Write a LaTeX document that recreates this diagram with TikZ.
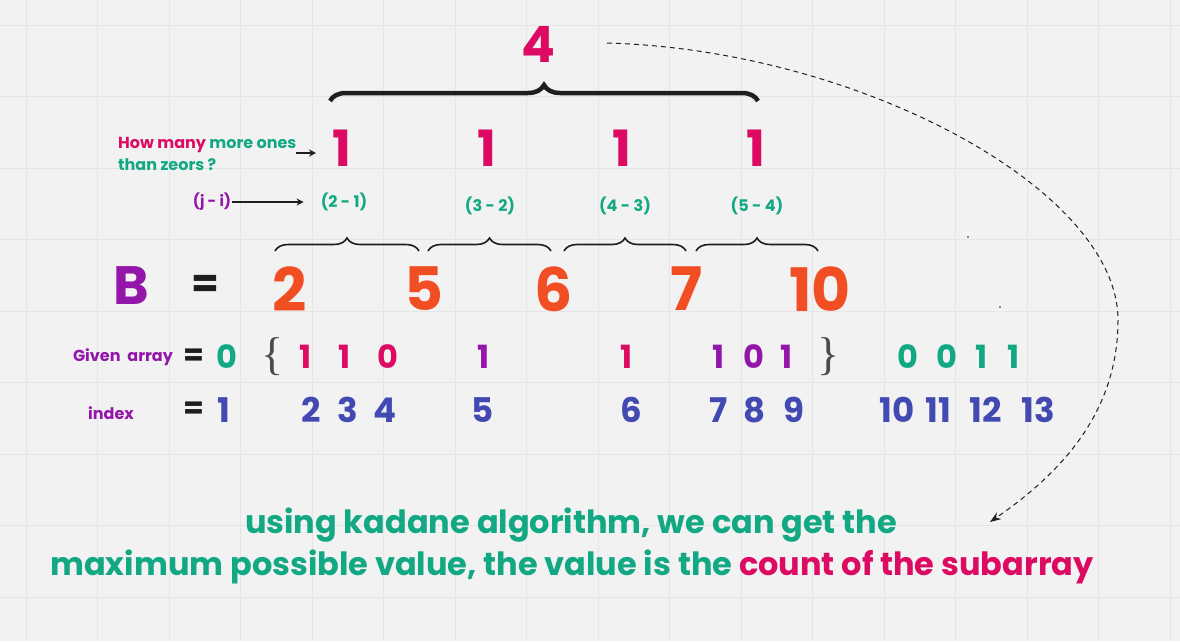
\documentclass[tikz,border=0pt]{standalone}
\usepackage{fontspec}
\setmainfont{Poppins}
\newfontfamily\braceserif{Liberation Serif}
\usetikzlibrary{decorations.pathreplacing,arrows.meta}
\definecolor{bg}{HTML}{F2F2F2}
\definecolor{gridc}{HTML}{E5E5E5}
\definecolor{pinkc}{HTML}{DC0A62}
\definecolor{greenc}{HTML}{13A884}
\definecolor{purplec}{HTML}{9315AA}
\definecolor{orangec}{HTML}{F24E24}
\definecolor{bluec}{HTML}{4249B2}
\definecolor{inkc}{HTML}{1E1E1E}
\tikzset{
  txt/.style={inner sep=0pt, font=\bfseries},
  big/.style={txt, font=\fontsize{50}{50}\selectfont\bfseries},
  bnum/.style={txt, text=orangec, font=\fontsize{60}{60}\selectfont\bfseries},
  arr/.style={txt, font=\fontsize{32}{32}\selectfont\bfseries},
  idx/.style={txt, text=bluec, font=\fontsize{34}{34}\selectfont\bfseries},
  lab/.style={txt, font=\fontsize{16}{22}\selectfont\bfseries},
  diff/.style={txt, text=greenc, font=\fontsize{16}{16}\selectfont\bfseries},
  rowlab/.style={txt, text=purplec, font=\fontsize{16}{16}\selectfont\bfseries},
  curly/.style={txt, text=inkc!80, font=\fontsize{46}{46}\selectfont\braceserif},
  bigbrace/.style={draw=inkc, line width=4.5pt, decorate, decoration={brace, amplitude=16pt}},
  smallbrace/.style={draw=inkc, line width=1.6pt, decorate, decoration={brace, amplitude=13pt}},
  pointer/.style={draw=inkc, line width=1.2pt, -{Stealth[length=7pt,width=7pt]}},
  dasharrow/.style={draw=inkc, line width=1pt, dash pattern=on 5pt off 4pt, -{Stealth[length=11pt,width=8pt]}},
  eqs/.style={txt, text=inkc},
  bottomtext/.style={txt, font=\fontsize{32}{32}\selectfont\bfseries}
}
\begin{document}
\begin{tikzpicture}[x=1pt,y=-1pt]
\fill[bg] (0,0) rectangle (1180,641);
\useasboundingbox (0,0) rectangle (1180,641);
\foreach \gx in {26,97.5,...,1180} \draw[gridc, line width=0.8pt] (\gx,0) -- (\gx,641);
\foreach \gy in {25,96.5,...,641} \draw[gridc, line width=0.8pt] (0,\gy) -- (1180,\gy);

% top total
\node[big, text=pinkc] (four) at (538,44) {4};
\draw[bigbrace] (330,101) -- (758,101);
\coordinate (dstart) at (607,43);
\coordinate (dend) at (990,522);
\draw[dasharrow] (dstart) .. controls (860,50) and (1118,190) .. (1118,320) .. controls (1118,415) and (1058,475) .. (dend);

% question
\node[lab, align=left, anchor=west] (q) at (118,154) {\textcolor{pinkc}{How many} \textcolor{greenc}{more ones}\\\textcolor{greenc}{than zeors ?}};
\node[big, text=pinkc] (o1) at (342,148) {1};
\node[big, text=pinkc] (o2) at (487,148) {1};
\node[big, text=pinkc] (o3) at (622,148) {1};
\node[big, text=pinkc] (o4) at (756,148) {1};
\coordinate (qarrow) at (316,153);
\coordinate (qtail) at (296,153);
\draw[pointer] (qtail) -- (qarrow);

\node[lab, text=purplec, font=\fontsize{15}{15}\selectfont\bfseries] (ji) at (212,202) {(j - i)};
\node[diff] (d1) at (344,202) {(2 - 1)};
\node[diff] (d2) at (490,206) {(3 - 2)};
\node[diff] (d3) at (625,206) {(4 - 3)};
\node[diff] (d4) at (757,206) {(5 - 4)};
\draw[pointer] ([xshift=1pt]ji.east) -- ([xshift=-17pt]d1.west);

% small braces
\draw[smallbrace] (275,251) -- (419,251);
\draw[smallbrace] (428,251) -- (551,251);
\draw[smallbrace] (564,251) -- (686,251);
\draw[smallbrace] (696,251) -- (818,251);

% B row
\node[txt, text=purplec, font=\fontsize{54}{54}\selectfont\bfseries] (B) at (131,286) {B};
\node[eqs, font=\fontsize{40}{40}\selectfont\bfseries] (eqB) at (205,286) {=};
\node[bnum] (b1) at (290,289) {2};
\node[bnum] (b2) at (424,289) {5};
\node[bnum] (b3) at (554,289) {6};
\node[bnum] (b4) at (687,289) {7};
\node[bnum] (b5) at (820,289) {10};
\fill[inkc] (968,237) circle (0.8pt);
\fill[inkc] (1000,307) circle (0.8pt);

% given array row
\node[rowlab] (ga) at (123,357) {Given\ \ array};
\node[eqs, font=\fontsize{30}{30}\selectfont\bfseries] (eq1) at (194,357) {=};
\node[arr, text=greenc] (a1) at (227,357) {0};
\node[curly] (lb) at (273,357) {\{};
\node[arr, text=pinkc] (a2) at (306,357) {1};
\node[arr, text=pinkc] (a3) at (345,357) {1};
\node[arr, text=pinkc] (a4) at (388,357) {0};
\node[arr, text=purplec] (a5) at (484,357) {1};
\node[arr, text=pinkc] (a6) at (627,357) {1};
\node[arr, text=purplec] (a7) at (719,357) {1};
\node[arr, text=purplec] (a8) at (754,357) {0};
\node[arr, text=purplec] (a9) at (787,357) {1};
\node[curly] (rb) at (829,357) {\}};
\node[arr, text=greenc] (a10) at (908,357) {0};
\node[arr, text=greenc] (a11) at (947,357) {0};
\node[arr, text=greenc] (a12) at (982,357) {1};
\node[arr, text=greenc] (a13) at (1014,357) {1};

% index row
\node[rowlab] (ix) at (111,413) {index};
\node[eqs, font=\fontsize{30}{30}\selectfont\bfseries] (eq2) at (194,410) {=};
\node[idx] (i1) at (224,410) {1};
\node[idx] (i2) at (311,410) {2};
\node[idx] (i3) at (348,410) {3};
\node[idx] (i4) at (385,410) {4};
\node[idx] (i5) at (483,410) {5};
\node[idx] (i6) at (631,410) {6};
\node[idx] (i7) at (719,410) {7};
\node[idx] (i8) at (755,410) {8};
\node[idx] (i9) at (794,410) {9};
\node[idx] (i10) at (897,410) {10};
\node[idx] (i11) at (938,410) {11};
\node[idx] (i12) at (986,410) {12};
\node[idx] (i13) at (1038,410) {13};

% bottom text
\node[bottomtext, text=greenc] (t1) at (571,525) {using kadane algorithm, we can get the};
\node[bottomtext] (t2) at (572,567) {\textcolor{greenc}{maximum possible value, the value is the} \textcolor{pinkc}{count of the subarray}};
\end{tikzpicture}
\end{document}
